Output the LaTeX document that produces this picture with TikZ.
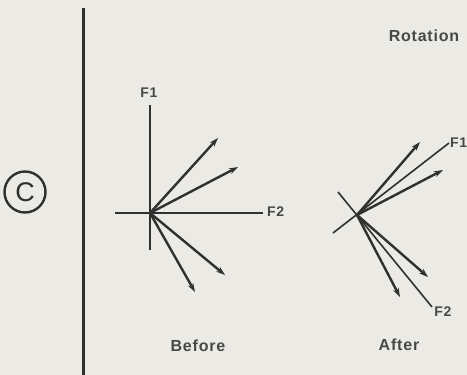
\documentclass[tikz,border=0pt]{standalone}
\usepackage{fontspec}
\setmainfont{Liberation Sans}
\newfontfamily\labfont[LetterSpace=5]{Liberation Sans}
\usetikzlibrary{arrows.meta}
\definecolor{bg}{RGB}{236,234,228}
\definecolor{ink}{RGB}{48,48,48}
\definecolor{txt}{RGB}{72,72,72}
\begin{document}
\begin{tikzpicture}[x=1pt,y=-1pt,
  axisline/.style={draw=ink, line width=2.2pt},
  thinaxis/.style={draw=ink, line width=1.6pt},
  vec/.style={draw=ink, line width=2.4pt, -{Stealth[length=9pt,width=6pt]}},
  lbl/.style={text=txt, font=\labfont\bfseries\fontsize{14}{14}\selectfont, inner sep=0pt},
  captext/.style={text=txt, font=\labfont\bfseries\fontsize{16}{16}\selectfont, inner sep=0pt}]
\fill[bg] (0,0) rectangle (467,375);
\useasboundingbox (0,0) rectangle (467,375);

% divider
\coordinate (dtop) at (83,8);
\coordinate (dbot) at (83,375);
\draw[ink, line width=3pt] (dtop) -- (dbot);

% circled C
\node[draw=ink, line width=2.4pt, circle, minimum size=41pt, inner sep=0pt,
      text=ink, font=\fontsize{27}{27}\selectfont] (circ) at (25,192) {C};

% title
\node[captext] (rot) at (424,36) {Rotation};

% ---- Before ----
\coordinate (o1) at (150,213);
\coordinate (f1top) at (150,105);
\coordinate (f1bot) at (150,250);
\coordinate (f2left) at (115,213);
\coordinate (f2right) at (263,213);
\draw[axisline] (f1top) -- (f1bot);
\draw[axisline] (f2left) -- (f2right);
\node[lbl] (bF1) at (149,93) {F1};
\node[lbl, anchor=west] (bF2) at (267,212) {F2};
\coordinate (b1) at (218,138);
\coordinate (b2) at (238,167);
\coordinate (b3) at (225,275);
\coordinate (b4) at (195,292);
\foreach \t in {b1,b2,b3,b4} \draw[vec] (o1) -- (\t);
\node[captext] (before) at (198,346) {Before};

% ---- After ----
\coordinate (o2) at (357,215);
\coordinate (a1s) at (333,233);
\coordinate (a1e) at (449,143);
\coordinate (a2s) at (338,192);
\coordinate (a2e) at (432,307);
\draw[thinaxis] (a1s) -- (a1e);
\draw[thinaxis] (a2s) -- (a2e);
\node[lbl, anchor=west] (aF1) at (450,143) {F1};
\node[lbl] (aF2) at (443,312) {F2};
\coordinate (c1) at (420,142);
\coordinate (c2) at (443,170);
\coordinate (c3) at (428,277);
\coordinate (c4) at (400,297);
\foreach \t in {c1,c2,c3,c4} \draw[vec] (o2) -- (\t);
\node[captext] (after) at (399,345) {After};
\end{tikzpicture}
\end{document}
